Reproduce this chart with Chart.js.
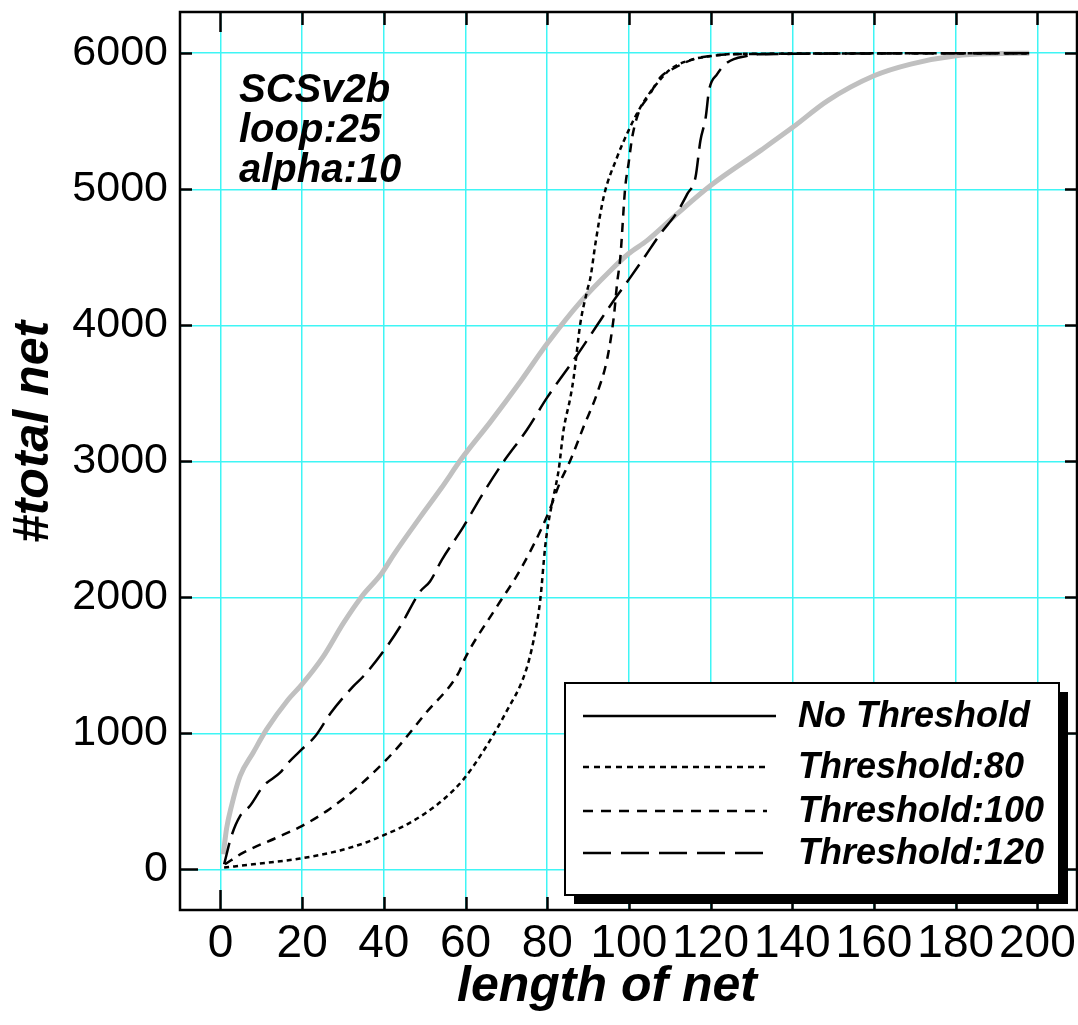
<!DOCTYPE html>
<html>
<head>
<meta charset="utf-8">
<title>#total net vs length of net</title>
<script src="https://cdn.jsdelivr.net/npm/chart.js@4/dist/chart.umd.min.js"></script>
<style>
  html, body { margin: 0; padding: 0; background: #fff; }
  canvas { display: block; }
</style>
</head>
<body>
<canvas id="net-chart" width="1078" height="1025"></canvas>
<script>
// cumulative net counts by net length, one pair of arrays per run
const noThresholdLen  = [0.7, 1.5, 2.7, 4.8, 8, 11.3, 16.6, 19.9, 25.2, 30.1, 34.6, 39.5, 42.4, 48.9, 54, 59.1, 66.1, 73.4, 80, 88.1, 95.5, 99.9, 104.5, 111.8, 120, 132.2, 140.1, 148.6, 160, 169, 180.1, 190, 198];
const noThresholdNets = [112, 300, 466, 686, 858, 1029, 1249, 1359, 1567, 1811, 2007, 2178, 2313, 2590, 2800, 3022, 3290, 3585, 3866, 4171, 4403, 4526, 4624, 4819, 5027, 5284, 5455, 5650, 5834, 5920, 5981, 5997, 6000];

const thr80Len  = [0.9, 8, 19.5, 29.3, 35.8, 40.7, 44, 50, 55, 59.5, 65, 70, 74.6, 76.7, 78.3, 79.5, 80.3, 81.6, 82.8, 84, 85.7, 86.5, 88.1, 89.8, 90.6, 91.8, 93.8, 97.1, 99.9, 102.8, 106.1, 110.2, 115.9, 120.8, 126, 198];
const thr80Nets = [14, 38, 80, 140, 200, 262, 305, 410, 525, 662, 900, 1160, 1445, 1689, 1982, 2373, 2550, 2750, 2936, 3230, 3474, 3620, 4012, 4257, 4354, 4600, 4941, 5235, 5431, 5602, 5748, 5883, 5957, 5981, 5995, 6000];

const thr100Len  = [1.1, 5.6, 13.8, 19.9, 26, 33.4, 39.9, 44, 50, 58.3, 59.9, 67.7, 73.4, 80, 83.2, 85.7, 88.9, 92.2, 94.7, 96.3, 97.1, 97.9, 99.1, 99.9, 100.8, 102.4, 104.9, 107.7, 111.4, 115.9, 120, 125.7, 198];
const thr100Nets = [38, 124, 234, 319, 429, 601, 784, 918, 1140, 1445, 1554, 1933, 2202, 2600, 2850, 3010, 3254, 3499, 3756, 4061, 4306, 4500, 5015, 5186, 5381, 5565, 5687, 5822, 5895, 5957, 5981, 5993, 6000];

const thr120Len  = [0.9, 2.7, 4.8, 7.2, 10.5, 14.6, 16.6, 19.9, 23.2, 27, 32.5, 35, 40.3, 44, 48.9, 51.3, 54.2, 59.5, 64, 69.3, 75, 80, 87.3, 92.2, 96, 100.4, 104, 107.7, 111.8, 114.3, 116.3, 117.5, 118.8, 119.6, 121.6, 124.1, 129, 132.2, 198];
const thr120Nets = [38, 246, 392, 466, 613, 711, 784, 882, 979, 1150, 1346, 1420, 1620, 1786, 2043, 2117, 2276, 2520, 2750, 2997, 3230, 3470, 3780, 4000, 4170, 4354, 4510, 4672, 4831, 4966, 5088, 5357, 5528, 5724, 5846, 5932, 5981, 5993, 6000];

const seriesLabels = ['No Threshold', 'Threshold:80', 'Threshold:100', 'Threshold:120'];
const xTickValues = [0, 20, 40, 60, 80, 100, 120, 140, 160, 180, 200];
const yTickValues = [0, 1000, 2000, 3000, 4000, 5000, 6000];
const noteLines = ['SCSv2b', 'loop:25', 'alpha:10'];
const xTitle = 'length of net';
const yTitle = '#total net';

const FONT = "'Liberation Sans', Arial, sans-serif";
const CYAN = '#3ff5f5';

function toPoints(xs, ys) {
    return xs.map((x, i) => ({ x: x, y: ys[i] }));
}

// dash patterns and end points for the sample lines in the key box
const legendDashes = [[], [6, 5], [10, 8], [28, 10]];
const legendLineEnd = [776, 770, 767, 766];

const framePlugin = {
    id: 'frame',
    afterDatasetsDraw(chart) {
        const ctx = chart.ctx;
        const area = chart.chartArea;
        const xs = chart.scales.x;
        const ys = chart.scales.y;
        ctx.save();

        // border box
        ctx.strokeStyle = '#000';
        ctx.lineWidth = 2.5;
        ctx.setLineDash([]);
        ctx.strokeRect(area.left, area.top, area.right - area.left, area.bottom - area.top);

        // inward tick marks on all four sides
        ctx.lineWidth = 2.5;
        ctx.beginPath();
        xTickValues.forEach(v => {
            const px = Math.round(xs.getPixelForValue(v)) + 0.5;
            const len = v === 0 ? 20 : 13;
            ctx.moveTo(px, area.top);
            ctx.lineTo(px, area.top + len);
            ctx.moveTo(px, area.bottom);
            ctx.lineTo(px, area.bottom - len);
        });
        yTickValues.forEach(v => {
            const py = Math.round(ys.getPixelForValue(v)) + 0.5;
            const len = v === 0 ? 18 : 12;
            ctx.moveTo(area.left, py);
            ctx.lineTo(area.left + len, py);
            ctx.moveTo(area.right, py);
            ctx.lineTo(area.right - len, py);
        });
        ctx.stroke();

        // run parameters, top left
        ctx.fillStyle = '#000';
        ctx.font = 'italic bold 40px ' + FONT;
        ctx.textAlign = 'left';
        ctx.textBaseline = 'alphabetic';
        noteLines.forEach((t, i) => {
            ctx.fillText(t, area.left + 59, area.top + 90 + i * 40);
        });

        // key box with drop shadow
        const bx = 565, by = 683, bw = 494, bh = 212;
        ctx.fillStyle = '#000';
        ctx.fillRect(bx + 9, by + 9, bw, bh);
        ctx.fillStyle = '#fff';
        ctx.fillRect(bx, by, bw, bh);
        ctx.lineWidth = 2;
        ctx.strokeStyle = '#000';
        ctx.strokeRect(bx, by, bw, bh);

        const rowY = [716, 767, 811, 853];
        ctx.font = 'italic bold 36px ' + FONT;
        ctx.textBaseline = 'middle';
        seriesLabels.forEach((label, i) => {
            ctx.beginPath();
            ctx.setLineDash(legendDashes[i]);
            ctx.lineWidth = 2.5;
            ctx.moveTo(583, rowY[i]);
            ctx.lineTo(legendLineEnd[i], rowY[i]);
            ctx.stroke();
            ctx.setLineDash([]);
            ctx.fillStyle = '#000';
            ctx.fillText(label, 798, rowY[i] + 1);
        });

        // axis titles
        ctx.font = 'italic bold 50px ' + FONT;
        ctx.textAlign = 'center';
        ctx.textBaseline = 'alphabetic';
        ctx.fillText(xTitle, 607, 1001);
        ctx.save();
        ctx.translate(48, 432);
        ctx.rotate(-Math.PI / 2);
        ctx.fillText(yTitle, 0, 0);
        ctx.restore();

        ctx.restore();
    }
};

const ctx = document.getElementById('net-chart').getContext('2d');

const chart = new Chart(ctx, {
    type: 'line',
    data: {
        datasets: [
            {
                label: seriesLabels[1],
                data: toPoints(thr80Len, thr80Nets),
                borderColor: '#000',
                borderWidth: 2.5,
                borderDash: [5, 4],
                order: 0
            },
            {
                label: seriesLabels[2],
                data: toPoints(thr100Len, thr100Nets),
                borderColor: '#000',
                borderWidth: 2.5,
                borderDash: [9, 7],
                order: 0
            },
            {
                label: seriesLabels[3],
                data: toPoints(thr120Len, thr120Nets),
                borderColor: '#000',
                borderWidth: 2.5,
                borderDash: [22, 9],
                order: 0
            },
            {
                label: seriesLabels[0],
                data: toPoints(noThresholdLen, noThresholdNets),
                borderColor: '#c0c0c0',
                borderWidth: 5,
                order: 1
            }
        ]
    },
    options: {
        responsive: false,
        animation: false,
        devicePixelRatio: 1,
        layout: { padding: { top: 12, right: 1, left: 0, bottom: 0 } },
        elements: {
            point: { radius: 0, hoverRadius: 0 },
            line: { cubicInterpolationMode: 'monotone', fill: false, borderCapStyle: 'butt' }
        },
        plugins: {
            legend: { display: false },
            tooltip: { enabled: false }
        },
        scales: {
            x: {
                type: 'linear',
                min: -9.9,
                max: 209.7,
                afterBuildTicks: s => { s.ticks = xTickValues.map(v => ({ value: v })); },
                afterFit: s => {
                    s.height = 115;
                    s.paddingLeft = 0;
                    s.paddingRight = 0;
                },
                grid: { color: CYAN, lineWidth: 1.5, drawTicks: false },
                border: { display: false },
                ticks: {
                    font: { family: FONT, size: 46 },
                    color: '#000',
                    padding: 7,
                    maxRotation: 0,
                    autoSkip: false,
                    callback: v => String(v)
                }
            },
            y: {
                type: 'linear',
                min: -298,
                max: 6303,
                afterBuildTicks: s => { s.ticks = yTickValues.map(v => ({ value: v })); },
                afterFit: s => {
                    s.width = 180;
                    s.paddingTop = 0;
                    s.paddingBottom = 0;
                },
                grid: { color: CYAN, lineWidth: 1.5, drawTicks: false },
                border: { display: false },
                ticks: {
                    font: { family: FONT, size: 43 },
                    color: '#000',
                    padding: 12,
                    autoSkip: false,
                    callback: v => String(v)
                }
            }
        }
    },
    plugins: [framePlugin]
});
</script>
</body>
</html>
